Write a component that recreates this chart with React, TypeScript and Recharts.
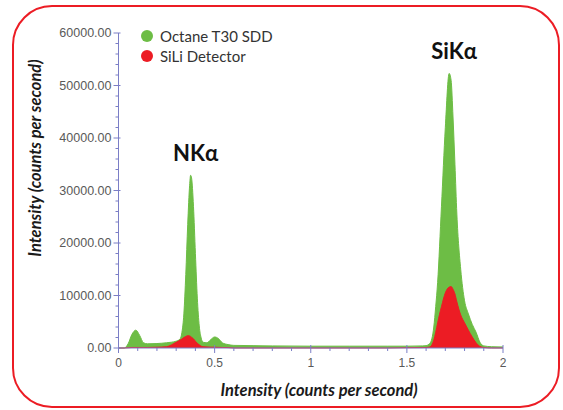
import React from 'react';
import { AreaChart, Area, XAxis, YAxis, Legend, ReferenceDot } from 'recharts';

// Energy axis positions (as labelled in the chart)
const energy = [0, 0.03, 0.05, 0.07, 0.09, 0.11, 0.13, 0.15, 0.2, 0.25, 0.3, 0.32, 0.33, 0.34, 0.35, 0.36, 0.37, 0.375, 0.38, 0.39, 0.4, 0.41, 0.42, 0.43, 0.44, 0.46, 0.48, 0.5, 0.52, 0.54, 0.57, 0.6, 0.7, 0.8, 1.0, 1.2, 1.4, 1.5, 1.58, 1.6, 1.62, 1.64, 1.65, 1.66, 1.68, 1.7, 1.72, 1.73, 1.74, 1.75, 1.76, 1.78, 1.8, 1.82, 1.84, 1.86, 1.88, 1.9, 1.94, 2.0];

const octaneSdd = [0, 0, 800, 2600, 3400, 2400, 1000, 800, 850, 1000, 1300, 1700, 3000, 6500, 14000, 23500, 31000, 32900, 32400, 27000, 18000, 9500, 4200, 1900, 1100, 1000, 1600, 2100, 1800, 1000, 650, 500, 450, 400, 350, 350, 350, 350, 400, 450, 900, 4000, 7900, 12500, 27000, 42000, 52300, 51000, 44000, 35000, 25500, 15000, 9000, 6500, 4500, 3000, 1100, 400, 250, 200];

const siliDetector = [0, 0, 50, 100, 100, 100, 100, 100, 150, 250, 1100, 1500, 1700, 2000, 2200, 2350, 2300, 2200, 2050, 1750, 1300, 900, 600, 350, 250, 200, 150, 150, 120, 100, 80, 0, 0, 0, 0, 0, 0, 60, 80, 100, 200, 1500, 3000, 4800, 7900, 10500, 11600, 11700, 11200, 10300, 8800, 6300, 4800, 3400, 2100, 1000, 300, 100, 0, 0];

const seriesNames = ['Octane T30 SDD', 'SiLi Detector'];

const xTicks = [0, 0.1, 0.2, 0.3, 0.4, 0.5, 0.6, 0.7, 0.8, 0.9, 1, 1.1, 1.2, 1.3, 1.4, 1.5, 1.6, 1.7, 1.8, 1.9, 2];
const xMajor = [0, 0.5, 1, 1.5, 2];
const xLabels = ['0', '0.5', '1', '1.5', '2'];

const yTicks = [0, 2000, 4000, 6000, 8000, 10000, 12000, 14000, 16000, 18000, 20000, 22000, 24000, 26000, 28000, 30000, 32000, 34000, 36000, 38000, 40000, 42000, 44000, 46000, 48000, 50000, 52000, 54000, 56000, 58000, 60000];
const yMajor = [0, 10000, 20000, 30000, 40000, 50000, 60000];
const yLabels = ['0.00', '10000.00', '20000.00', '30000.00', '40000.00', '50000.00', '60000.00'];

const data = energy.map((e, i) => ({ energy: e, sdd: octaneSdd[i], sili: siliDetector[i] }));

const GREEN = '#6dbd45';
const RED = '#ec1c24';
const AXIS = '#7b7ec6';
const TICK_TEXT = '#595959';

const XTick = (props: any) => {
  const { x, y, payload } = props;
  const idx = xMajor.indexOf(payload.value);
  const major = idx >= 0;
  return (
    <g>
      <line x1={x} x2={x} y1={major ? y - 3 : y} y2={y + (major ? 5 : 3)} stroke={AXIS} strokeWidth={1} />
      {major && (
        <text x={x} y={y + 19} textAnchor="middle" fill={TICK_TEXT} fontSize={12} fontFamily="Liberation Sans, Arial, sans-serif">
          {xLabels[idx]}
        </text>
      )}
    </g>
  );
};

const YTick = (props: any) => {
  const { x, y, payload } = props;
  const idx = yMajor.indexOf(payload.value);
  const major = idx >= 0;
  return (
    <g>
      <line x1={x - (major ? 5 : 3)} x2={major ? x + 2 : x} y1={y} y2={y} stroke={AXIS} strokeWidth={1} />
      {major && (
        <text x={x - 7} y={y} dy="0.35em" textAnchor="end" fill={TICK_TEXT} fontSize={12.5} fontFamily="Liberation Sans, Arial, sans-serif">
          {yLabels[idx]}
        </text>
      )}
    </g>
  );
};

const XTitle = (props: any) => {
  const { viewBox } = props;
  return (
    <text x={319} y={viewBox.y + 48} textAnchor="middle" fill="#1a1a1a" fontSize={16.5} fontWeight="bold" fontStyle="italic" fontFamily="Lato, sans-serif">
      Intensity (counts per second)
    </text>
  );
};

const YTitle = () => {
  return (
    <text x={0} y={0} transform="translate(41,158) rotate(-90)" textAnchor="middle" fill="#1a1a1a" fontSize={16.5} fontWeight="bold" fontStyle="italic" fontFamily="Lato, sans-serif">
      Intensity (counts per second)
    </text>
  );
};

const renderLegend = (props: any) => {
  const { payload } = props;
  return (
    <div>
      {(payload || []).map((p: any, i: number) => (
        <div key={i} style={{ display: 'flex', alignItems: 'center', height: 20 }}>
          <svg width={14} height={14} style={{ marginRight: 6 }}>
            <circle cx={7} cy={7} r={6} fill={p.color} />
          </svg>
          <span style={{ fontFamily: 'Lato, sans-serif', fontSize: 15, color: '#333' }}>{seriesNames[i]}</span>
        </div>
      ))}
    </div>
  );
};

const PeakLabel = (text: string) => (props: any) => {
  const { viewBox } = props;
  return (
    <text x={viewBox.x + 5} y={viewBox.y - 14} textAnchor="middle" fill="#111" fontSize={22} fontWeight="bold" fontFamily="Lato, sans-serif">
      {text}
    </text>
  );
};

export default function App() {
  return (
    <div style={{ position: 'absolute', left: 0, top: 0, width: 563, height: 410, background: '#fff' }}>
      <div
        style={{
          position: 'absolute',
          left: 12,
          top: 5,
          width: 548,
          height: 403,
          border: `2px solid ${RED}`,
          borderRadius: 40,
          boxSizing: 'border-box',
        }}
      />
      <div style={{ position: 'absolute', left: 0, top: 0 }}>
        <AreaChart width={563} height={410} data={data} margin={{ top: 33, right: 60, bottom: 32, left: 18.5 }}>
          <XAxis
            dataKey="energy"
            type="number"
            domain={[0, 2]}
            ticks={xTicks}
            interval={0}
            tickSize={0}
            tickMargin={0}
            tickLine={false}
            axisLine={{ stroke: AXIS, strokeWidth: 1 }}
            tick={<XTick />}
            height={30}
            label={<XTitle />}
          />
          <YAxis
            type="number"
            domain={[0, 60000]}
            ticks={yTicks}
            interval={0}
            tickSize={0}
            tickMargin={0}
            tickLine={false}
            axisLine={{ stroke: AXIS, strokeWidth: 1 }}
            tick={<YTick />}
            width={100}
            label={<YTitle />}
          />
          <Legend
            layout="vertical"
            align="center"
            verticalAlign="middle"
            content={renderLegend}
            wrapperStyle={{ left: 140, top: 26, width: 160 }}
          />
          <Area
            type="monotone"
            dataKey="sdd"
            name={seriesNames[0]}
            stroke={GREEN}
            strokeWidth={1}
            fill={GREEN}
            fillOpacity={1}
            isAnimationActive={false}
            dot={false}
            activeDot={false}
          />
          <Area
            type="monotone"
            dataKey="sili"
            name={seriesNames[1]}
            stroke={RED}
            strokeWidth={1}
            fill={RED}
            fillOpacity={1}
            isAnimationActive={false}
            dot={false}
            activeDot={false}
          />
          <ReferenceDot x={0.375} y={32900} r={0} fill="none" stroke="none" label={PeakLabel('NKα')} />
          <ReferenceDot x={1.72} y={52300} r={0} fill="none" stroke="none" label={PeakLabel('SiKα')} />
        </AreaChart>
      </div>
    </div>
  );
}
